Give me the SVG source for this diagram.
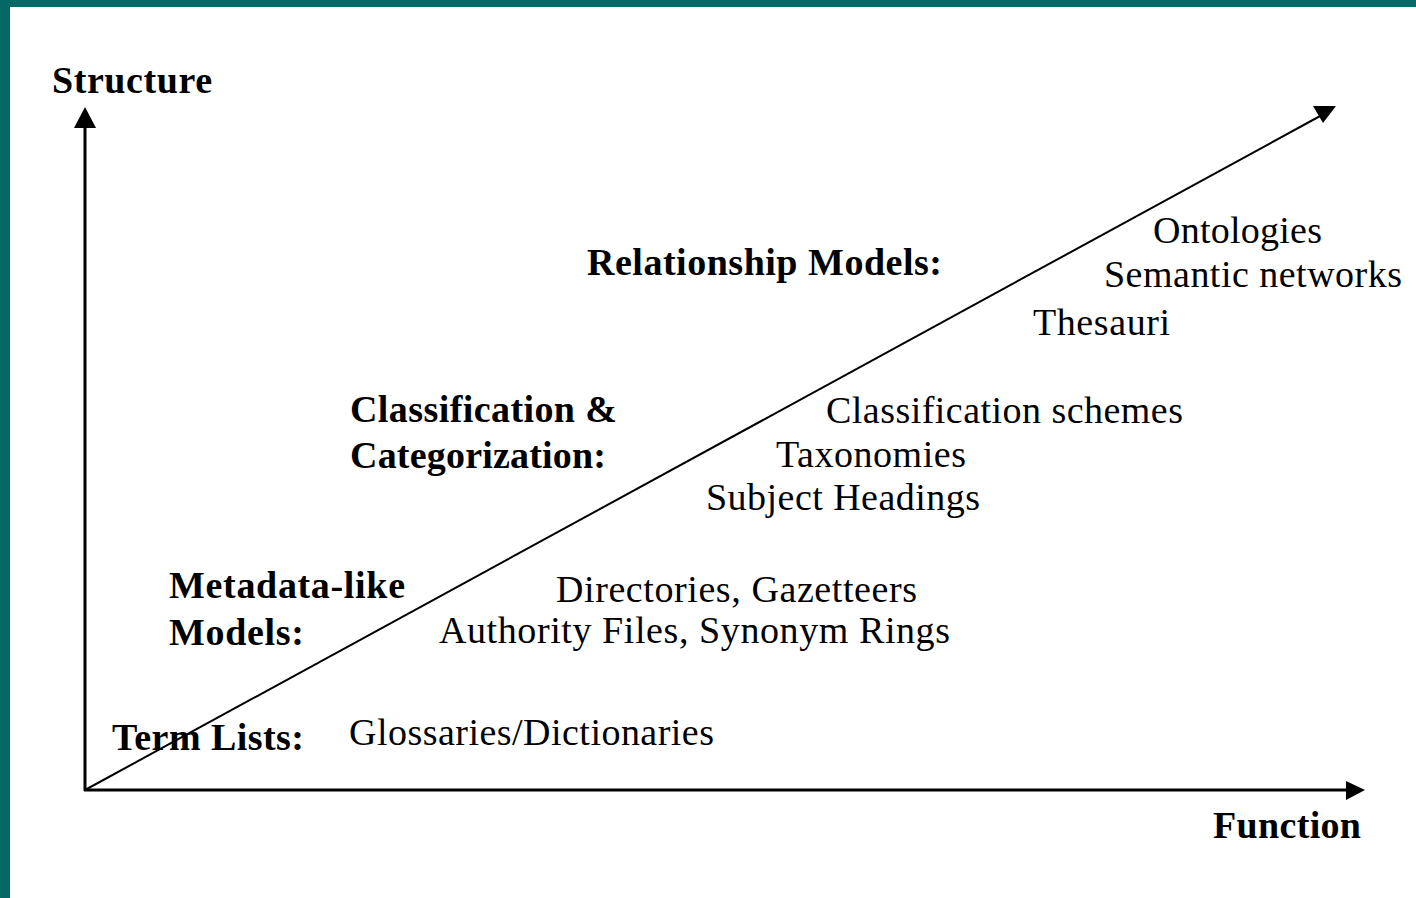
<svg xmlns="http://www.w3.org/2000/svg" width="1416" height="898" viewBox="0 0 1416 898">
<style>
.r{font-family:"Liberation Serif","Times New Roman",serif;font-size:38px;fill:#000}
.b{font-family:"Liberation Serif","Times New Roman",serif;font-size:38px;font-weight:bold;fill:#000}
.ax{stroke:#000;stroke-width:3;fill:none}
.dg{stroke:#000;stroke-width:2;fill:none}
</style>
<rect width="1416" height="898" fill="#fff"/>
<rect x="0" y="0" width="1416" height="7" fill="#036866"/>
<rect x="0" y="0" width="10" height="898" fill="#036866"/>
<g id="connectors">
<line class="ax" x1="85" y1="791" x2="85" y2="125"/>
<polygon points="85,107 74,128 96,128" fill="#000"/>
<line class="ax" x1="84" y1="790" x2="1348" y2="790"/>
<polygon points="1365,790 1346,781 1346,800" fill="#000"/>
<line class="dg" x1="85" y1="790" x2="1322" y2="115"/>
<polygon points="1313,106 1336,106 1323,123" fill="#000"/>
</g>
<g id="axis-structure"><text class="b" x="52" y="93" textLength="160">Structure</text></g>
<g id="axis-function"><text class="b" x="1213" y="838" textLength="148">Function</text></g>
<g id="relationship-models">
<text class="b" x="587" y="275" textLength="355">Relationship Models:</text>
<text class="r" x="1153" y="243" textLength="169">Ontologies</text>
<text class="r" x="1104" y="287" textLength="298">Semantic networks</text>
<text class="r" x="1033" y="335" textLength="137">Thesauri</text>
</g>
<g id="classification">
<text class="b" x="350" y="422" textLength="267">Classification &amp;</text>
<text class="b" x="350" y="468" textLength="256">Categorization:</text>
<text class="r" x="826" y="423" textLength="357">Classification schemes</text>
<text class="r" x="776" y="467" textLength="190">Taxonomies</text>
<text class="r" x="706" y="510" textLength="274">Subject Headings</text>
</g>
<g id="metadata">
<text class="b" x="169" y="598" textLength="236">Metadata-like</text>
<text class="b" x="169" y="645" textLength="135">Models:</text>
<text class="r" x="556" y="602" textLength="361">Directories, Gazetteers</text>
<text class="r" x="439" y="643" textLength="511">Authority Files, Synonym Rings</text>
</g>
<g id="term-lists">
<text class="b" x="112" y="750" textLength="192">Term Lists:</text>
<text class="r" x="349" y="745" textLength="365">Glossaries/Dictionaries</text>
</g>
</svg>
